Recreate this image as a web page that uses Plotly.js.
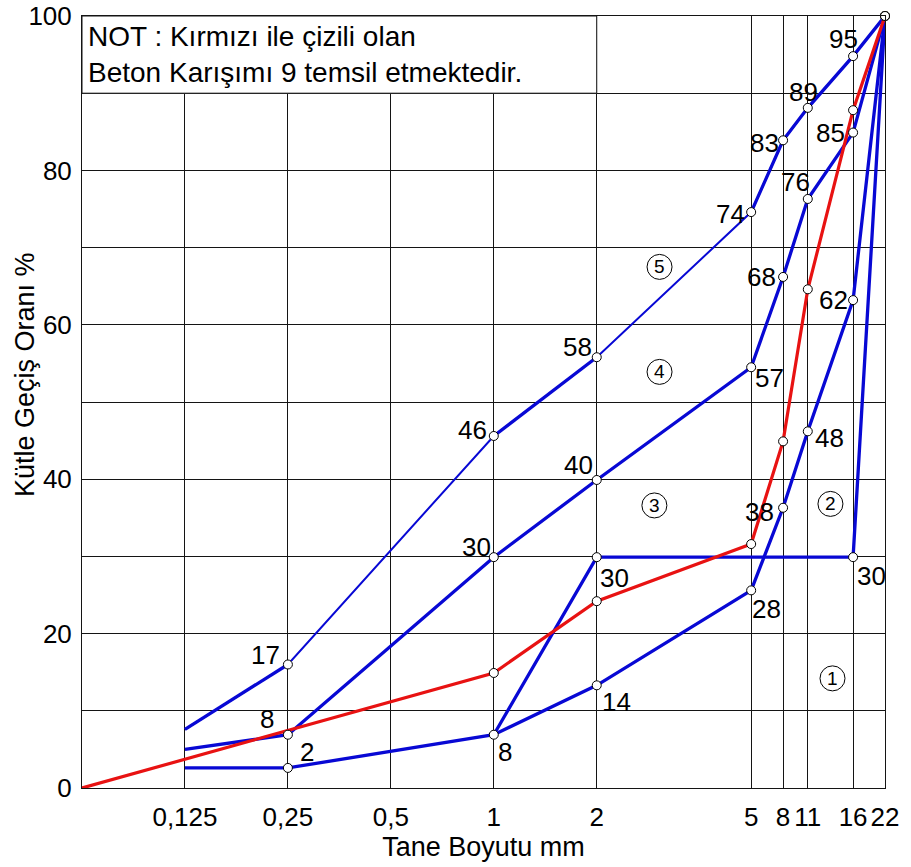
<!DOCTYPE html>
<html>
<head>
<meta charset="utf-8">
<script src="https://cdn.plot.ly/plotly-3.0.1.min.js"></script>
<style>
  html, body { margin: 0; padding: 0; background: #ffffff; }
  #chart { width: 911px; height: 867px; }
</style>
</head>
<body>
<div id="chart"></div>
<script>
// ---- Axis definition: sieve sizes (mm) and the chart's own non-uniform sieve scale ----
const sieveSizes    = [0, 0.125, 0.25, 0.5, 1, 2, 5, 8, 11, 16, 22];
const sieveTickText = ['', '0,125', '0,25', '0,5', '1', '2', '5', '8', '11', '16', '22'];
const sieveAxisPos  = [0, 1, 2, 3, 4, 5, 6.5, 6.81, 7.05, 7.49, 7.8];

const passTickVals = [0, 10, 20, 30, 40, 50, 60, 70, 80, 90, 100];
const passTickText = ['0', '', '20', '', '40', '', '60', '', '80', '', '100'];

// ---- Data: passing percentages ----
const gradedSizes  = [0.125, 0.25, 1, 2, 5, 8, 11, 16, 22];
const curve1Pass   = [2.6, 2.6, 6.9, 13.3, 25.6, 36.3, 46.2, 63.2, 100];
const curve1Labels = ['', '2', '8', '14', '28', '38', '48', '62', ''];

const gapSizes     = [1, 2, 16, 22];
const gapPass      = [6.9, 29.9, 29.9, 100];
const gapLabels    = ['', '30', '30', ''];

const curve3Pass   = [5.0, 6.9, 29.9, 39.9, 54.5, 66.2, 76.3, 84.9, 100];
const curve3Labels = ['', '8', '30', '40', '57', '68', '76', '85', ''];

const curve4Pass   = [7.6, 16.0, 45.6, 55.8, 74.6, 83.9, 88.1, 94.8, 100];
const curve4Labels = ['', '17', '46', '58', '74', '83', '89', '95', ''];

const mixSizes     = [0, 1, 2, 5, 8, 11, 16, 22];
const mixPass      = [0, 14.9, 24.2, 31.6, 44.9, 64.6, 87.8, 100];

const regionNames  = ['1', '2', '3', '4', '5'];
const noteText     = 'NOT : Kırmızı ile çizili olan<br>Beton Karışımı 9 temsil etmektedir.';
const xTitle       = 'Tane Boyutu mm';
const yTitle       = 'Kütle Geçiş Oranı %';

// ---- Styling ----
const BLUE = '#0808d4';
const RED = '#e81212';
const GRID = '#141414';
const FONT = 'Liberation Sans, Arial, sans-serif';

function pos(size) { return sieveAxisPos[sieveSizes.indexOf(size)]; }
function xs(sizes) { return sizes.map(pos); }

const traces = [];
function lineTrace(sizes, vals, color, width) {
  traces.push({
    type: 'scatter', mode: 'lines', x: xs(sizes), y: vals,
    line: { color: color, width: width }, hoverinfo: 'skip', showlegend: false,
    cliponaxis: false
  });
}
function markerTrace(sizes, vals) {
  traces.push({
    type: 'scatter', mode: 'markers', x: xs(sizes), y: vals,
    marker: { size: 9, color: '#ffffff', line: { color: '#000000', width: 1 } },
    hoverinfo: 'skip', showlegend: false, cliponaxis: false
  });
}

// blue grading limit curves
lineTrace(gradedSizes, curve1Pass, BLUE, 3.3);
lineTrace(gapSizes, gapPass, BLUE, 3.3);
lineTrace(gradedSizes, curve3Pass, BLUE, 3.3);
// upper curve: thin full line with thick segments
lineTrace(gradedSizes, curve4Pass, BLUE, 2);
lineTrace(gradedSizes.slice(0, 2), curve4Pass.slice(0, 2), BLUE, 3.3);
lineTrace(gradedSizes.slice(2, 4), curve4Pass.slice(2, 4), BLUE, 3.3);
lineTrace(gradedSizes.slice(4), curve4Pass.slice(4), BLUE, 3.3);
// red mix curve
lineTrace(mixSizes, mixPass, RED, 3.2);

// markers (on top)
markerTrace(gradedSizes.slice(1), curve1Pass.slice(1));
markerTrace(gapSizes.slice(1), gapPass.slice(1));
markerTrace(gradedSizes.slice(1), curve3Pass.slice(1));
markerTrace(gradedSizes.slice(1), curve4Pass.slice(1));
markerTrace(mixSizes.slice(1), mixPass.slice(1));

// ---- value labels ----
const annotations = [];
function addLabels(sizes, vals, labels, offsets) {
  labels.forEach(function (t, i) {
    if (!t) return;
    const o = offsets[i];
    annotations.push({
      x: pos(sizes[i]), y: vals[i], xref: 'x', yref: 'y', text: t, showarrow: false,
      xanchor: 'center', yanchor: 'middle', xshift: o[0], yshift: -o[1],
      font: { family: FONT, size: 26, color: '#000000' }
    });
  });
}
addLabels(gradedSizes, curve1Pass, curve1Labels,
  [null, [19, -16], [11, 17], [20, 17], [15, 19], [-24, 4], [22, 7], [-20, 0], null]);
addLabels(gapSizes, gapPass, gapLabels,
  [null, [18, 21], [18, 19], null]);
addLabels(gradedSizes, curve3Pass, curve3Labels,
  [null, [-21, -16], [-17, -10], [-18, -15], [18, 11], [-22, 0], [-12, -17], [-23, 0], null]);
addLabels(gradedSizes, curve4Pass, curve4Labels,
  [null, [-22, -9], [-21, -6], [-19, -10], [-21, 2], [-19, 3], [-4, -16], [-10, -17], null]);

// ---- circled region numbers ----
const regionAt = [[7.29, 14.2], [7.27, 36.8], [5.56, 36.6], [5.61, 53.9], [5.61, 67.5]];
const shapes = [
  { type: 'rect', xref: 'x', yref: 'y', x0: pos(0), x1: pos(2), y0: 90, y1: 100,
    fillcolor: '#ffffff', line: { color: GRID, width: 1 }, layer: 'between' }
];
regionNames.forEach(function (t, i) {
  const p = regionAt[i];
  shapes.push({
    type: 'circle', xref: 'x', yref: 'y', xsizemode: 'pixel', ysizemode: 'pixel',
    xanchor: p[0], yanchor: p[1], x0: -12.5, x1: 12.5, y0: -12.5, y1: 12.5,
    line: { color: '#000000', width: 1 }, fillcolor: 'rgba(0,0,0,0)', layer: 'above'
  });
  annotations.push({
    x: p[0], y: p[1], xref: 'x', yref: 'y', text: t, showarrow: false,
    xanchor: 'center', yanchor: 'middle', font: { family: FONT, size: 19, color: '#000000' }
  });
});

// note text
annotations.push({
  x: pos(0), y: 100, xref: 'x', yref: 'y', text: noteText, showarrow: false,
  xanchor: 'left', yanchor: 'top', align: 'left', xshift: 4, yshift: -3,
  font: { family: FONT, size: 28, color: '#000000' }
});

// y axis title (placed like the reference, shifted above the axis centre)
annotations.push({
  x: 0, y: 0.535, xref: 'paper', yref: 'paper', text: yTitle, showarrow: false,
  textangle: -90, xanchor: 'center', yanchor: 'middle', xshift: -57,
  font: { family: FONT, size: 27, color: '#000000' }
});

const layout = {
  width: 911, height: 867,
  margin: { l: 82, r: 26, t: 16, b: 79, pad: 0 },
  paper_bgcolor: '#ffffff', plot_bgcolor: '#ffffff',
  showlegend: false,
  font: { family: FONT, color: '#000000' },
  xaxis: {
    range: [0, 7.8], tickmode: 'array', tickvals: sieveAxisPos, ticktext: sieveTickText,
    showgrid: true, gridcolor: GRID, gridwidth: 1, zeroline: false,
    showline: true, linecolor: GRID, linewidth: 1, mirror: true,
    ticks: '', ticklabelstandoff: 6,
    tickfont: { family: FONT, size: 26, color: '#000000' },
    title: { text: xTitle, font: { family: FONT, size: 27, color: '#000000' }, standoff: 0 },
    fixedrange: true
  },
  yaxis: {
    range: [0, 100], tickmode: 'array', tickvals: passTickVals, ticktext: passTickText,
    showgrid: true, gridcolor: GRID, gridwidth: 1, zeroline: false,
    showline: true, linecolor: GRID, linewidth: 1, mirror: true,
    ticks: '', ticklabelstandoff: 4,
    tickfont: { family: FONT, size: 26, color: '#000000' },
    fixedrange: true
  },
  shapes: shapes,
  annotations: annotations
};

Plotly.newPlot('chart', traces, layout, { staticPlot: true, displayModeBar: false });
</script>
</body>
</html>
